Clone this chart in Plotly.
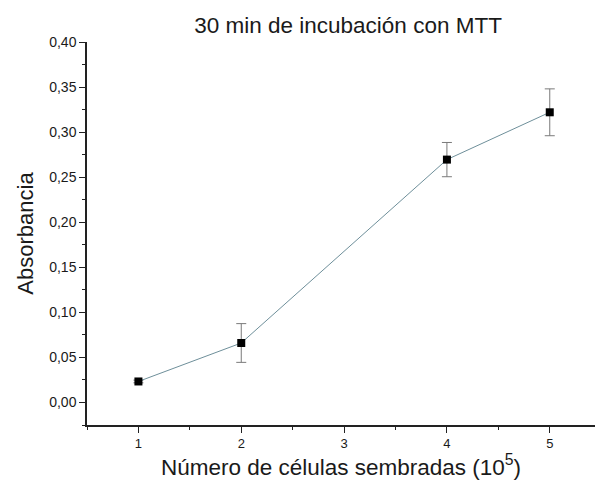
import plotly.graph_objects as go

cells = [1, 2, 4, 5]
absorb = [0.0233, 0.066, 0.2695, 0.322]
err = [0.0015, 0.0215, 0.019, 0.026]

x_ticks = [1, 2, 3, 4, 5]
y_ticks = [0.0, 0.05, 0.10, 0.15, 0.20, 0.25, 0.30, 0.35, 0.40]

fig = go.Figure()
fig.add_trace(go.Scatter(
    x=cells, y=absorb,
    mode="lines+markers",
    line=dict(color="#6e8f9a", width=1),
    marker=dict(symbol="square", size=8, color="black"),
    error_y=dict(type="data", array=err, visible=True, color="#7a7a7a", thickness=1, width=5),
    showlegend=False,
))

font_fam = "Arial, Liberation Sans, sans-serif"

fig.update_layout(
    template="none",
    width=595, height=482,
    margin=dict(l=87, r=0, t=42, b=57),
    paper_bgcolor="white", plot_bgcolor="white",
    separators=",.",
    font=dict(family=font_fam, color="#1a1a1a", size=14),
    title=dict(text="30 min de incubación con MTT", x=0.585, xanchor="center",
               y=0.948, yanchor="middle", font=dict(size=22.5)),
)
fig.update_xaxes(
    range=[0.5, 5.44], tickvals=x_ticks,
    ticks="outside", ticklen=6, tickwidth=1,
    tickcolor="#222", showline=True, linecolor="#222", linewidth=1.5,
    showgrid=False, zeroline=False, automargin=False,
    tickfont_size=13, tickfont_family=font_fam,
    minor=dict(dtick=0.5, tick0=0.5, ticks="outside", ticklen=3, tickcolor="#222", showgrid=False),
    title=dict(text="Número de células sembradas (10<sup>5</sup>)", font=dict(size=22.5), standoff=6),
)
fig.update_yaxes(
    range=[-0.025, 0.40], tickvals=y_ticks, tickformat=".2f",
    ticks="outside", ticklen=6,
    tickwidth=1, tickcolor="#222", showline=True, linecolor="#222", linewidth=1.5,
    showgrid=False, zeroline=False, automargin=False,
    tickfont_size=14, tickfont_family=font_fam,
    minor=dict(dtick=0.025, tick0=0, ticks="outside", ticklen=3, tickcolor="#222", showgrid=False),
    title=dict(text="Absorbancia", font=dict(size=22), standoff=10),
)

fig.write_html("out.html")
